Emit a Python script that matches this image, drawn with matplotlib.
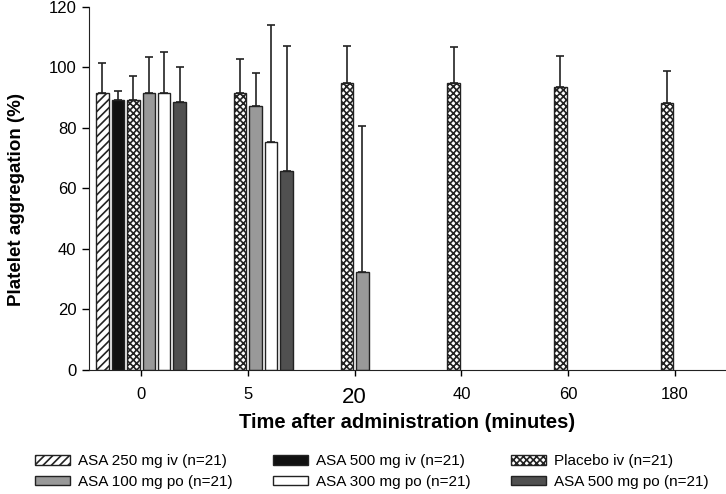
import numpy as np
import matplotlib
matplotlib.use('Agg')
import matplotlib.pyplot as plt

plt.rcParams['font.family'] = ['Liberation Sans', 'DejaVu Sans']
plt.rcParams['hatch.linewidth'] = 1.2

nan = np.nan

categories = ['0', '5', '20', '40', '60', '180']

asa250_iv = [91.7, nan, nan, nan, nan, nan]
asa250_iv_sd = [9.7, nan, nan, nan, nan, nan]
asa500_iv = [89.2, nan, nan, nan, nan, nan]
asa500_iv_sd = [3.0, nan, nan, nan, nan, nan]
placebo_iv = [89.2, 91.6, 94.9, 94.7, 93.4, 88.4]
placebo_iv_sd = [8.0, 11.1, 12.2, 12.0, 10.3, 10.5]
asa100_po = [91.7, 87.2, 32.4, nan, nan, nan]
asa100_po_sd = [11.8, 11.1, 48.2, nan, nan, nan]
asa300_po = [91.7, 75.4, nan, nan, nan, nan]
asa300_po_sd = [13.5, 38.6, nan, nan, nan, nan]
asa500_po = [88.6, 65.8, nan, nan, nan, nan]
asa500_po_sd = [11.6, 41.4, nan, nan, nan, nan]

series = [
    ('ASA 250 mg iv (n=21)', asa250_iv, asa250_iv_sd, 'white', '////'),
    ('ASA 500 mg iv (n=21)', asa500_iv, asa500_iv_sd, '#111111', None),
    ('Placebo iv (n=21)', placebo_iv, placebo_iv_sd, 'white', 'xxxxx'),
    ('ASA 100 mg po (n=21)', asa100_po, asa100_po_sd, '#999999', None),
    ('ASA 300 mg po (n=21)', asa300_po, asa300_po_sd, 'white', None),
    ('ASA 500 mg po (n=21)', asa500_po, asa500_po_sd, '#505050', None),
]

fig = plt.figure(figsize=(7.26, 4.94), dpi=100)
ax = fig.add_axes([0.1226, 0.251, 0.8774, 0.735])

x = np.arange(len(categories))
step = 0.145
width = 0.117
handles = {}
for i, (label, vals, sd, color, hatch) in enumerate(series):
    xpos = x + (i - 2.5) * step
    vals = np.array(vals)
    sd = np.array(sd)
    ok = ~np.isnan(vals)
    bars = ax.bar(xpos[ok], vals[ok], width, color=color, edgecolor='#222222',
                  hatch=hatch, linewidth=1.0, label=label, zorder=2)
    # only the upper half of the error bar is shown
    ax.errorbar(xpos[ok], vals[ok], yerr=[np.zeros(ok.sum()), sd[ok]], fmt='none',
                ecolor='#222222', elinewidth=1.2, capsize=3, capthick=1.2, zorder=1)
    handles[label] = bars

ax.set_xlim(-0.487, 5.478)
ax.set_ylim(0, 120)
ax.set_yticks(range(0, 121, 20))
ax.set_xticks(x)
ax.set_xticklabels(categories)
for t in ax.get_xticklabels():
    t.set_fontsize(16 if t.get_text() == '20' else 12)
ax.tick_params(axis='y', labelsize=12, length=5, width=1, direction='out', pad=4)
ax.tick_params(axis='x', length=4, width=1, direction='out', pad=8)
ax.spines['top'].set_visible(False)
ax.spines['right'].set_visible(False)
ax.spines['left'].set_color('#222222')
ax.spines['bottom'].set_color('#222222')

ax.set_ylabel('Platelet aggregation (%)', fontsize=13.5, fontweight='bold')
ax.yaxis.set_label_coords(-0.1, 0.47)
ax.set_xlabel('Time after administration (minutes)', fontsize=14.5, fontweight='bold', labelpad=4)

# legend is row-major in the picture, matplotlib fills columns first
order = ['ASA 250 mg iv (n=21)', 'ASA 100 mg po (n=21)',
         'ASA 500 mg iv (n=21)', 'ASA 300 mg po (n=21)',
         'Placebo iv (n=21)', 'ASA 500 mg po (n=21)']
fig.legend([handles[k] for k in order], order, loc='center', bbox_to_anchor=(0.512, 0.045),
           ncol=3, frameon=False, fontsize=11, handlelength=2.3, handleheight=0.55,
           columnspacing=2.6, handletextpad=0.55, labelspacing=0.45, borderpad=0)

plt.savefig('out.png', dpi=100)
plt.close()
